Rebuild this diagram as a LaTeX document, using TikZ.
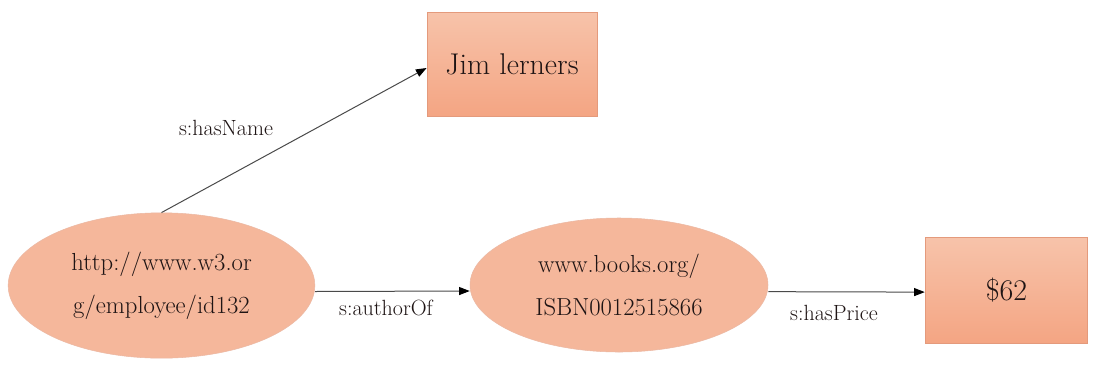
\documentclass[tikz,border=0pt]{standalone}
\usetikzlibrary{shapes.geometric,arrows.meta}
\definecolor{peachtop}{HTML}{F7C3AA}
\definecolor{peachbot}{HTML}{F4A583}
\definecolor{peachfill}{HTML}{F5B79B}
\definecolor{peachedge}{HTML}{E49A7C}
\definecolor{inkcol}{HTML}{1E1414}
\definecolor{linecol}{HTML}{4A4A4A}
\begin{document}
\begin{tikzpicture}[x=0.75pt,y=-0.75pt,
  boxnode/.style={rectangle,draw=peachedge,line width=0.6pt,top color=peachtop,bottom color=peachbot,
    inner sep=0pt,text=inkcol},
  ellnode/.style={ellipse,draw=peachedge!70,line width=0.4pt,fill=peachfill,inner sep=0pt,
    text=inkcol,align=center,font=\fontsize{18.5}{32}\selectfont},
  edgelabel/.style={text=inkcol,font=\fontsize{16.5}{19}\selectfont,inner sep=0pt},
  arr/.style={draw=linecol,line width=0.75pt,-{Triangle[length=8pt,width=6pt,fill=black,color=black]}}]
\useasboundingbox (0,0) rectangle (1093,365);
\fill[white] (0,0) rectangle (1093,365);

\node[boxnode,minimum width=127.5pt,minimum height=78pt,font=\fontsize{22.5}{26}\selectfont] (name) at (512,64) {Jim lerners};
\node[boxnode,minimum width=122pt,minimum height=79pt,font=\fontsize{22.5}{26}\selectfont] (price) at (1006.5,290.5) {\$62};

\node[ellnode,minimum width=230pt,minimum height=109pt] (emp) at (161.5,285.5) {http://www.w3.or\\g/employee/id132};
\node[ellnode,minimum width=223.5pt,minimum height=100.5pt] (book) at (619,285) {www.books.org/\\ISBN0012515866};

\draw[arr] (emp.north) -- ([yshift=-3pt]name.west);
\draw[arr] ([yshift=-4.5pt]emp.east) -- ([yshift=-4.5pt]book.west);
\draw[arr] ([yshift=-5pt]book.east) -- ([yshift=-1.2pt]price.west);

\node[edgelabel] (lname) at (226,128) {s:hasName};
\node[edgelabel] (lauth) at (386,308) {s:authorOf};
\node[edgelabel] (lprice) at (834,313) {s:hasPrice};
\end{tikzpicture}
\end{document}
